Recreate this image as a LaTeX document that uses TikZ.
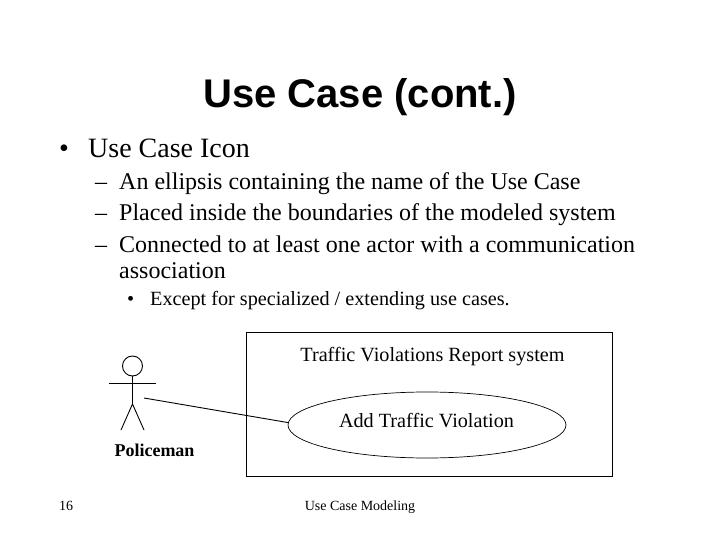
\documentclass[tikz,border=0pt]{standalone}
\usepackage{fontspec}
\setmainfont{Liberation Serif}
\newfontfamily\titlefont{Liberation Sans}
\usetikzlibrary{shapes.geometric}
\tikzset{
  txt/.style={anchor=base west,inner sep=0pt},
  ctxt/.style={anchor=base,inner sep=0pt},
  stick/.style={line width=0.9pt},
}
\begin{document}
\begin{tikzpicture}[x=1pt,y=-1pt]
  \useasboundingbox (0,0) rectangle (720,540);
  \node[ctxt,font=\titlefont\bfseries\fontsize{40}{40}\selectfont] (title) at (360,108) {Use Case (cont.)};
  \node[txt,font=\fontsize{28}{28}\selectfont] (bulA) at (59,157.5) {\textbullet};
  \node[txt,font=\fontsize{28}{28}\selectfont] (icon) at (88,157.5) {Use Case Icon};
  % second level
  \node[txt,font=\fontsize{24}{24}\selectfont] (dashA) at (95,189.5) {--};
  \node[txt,font=\fontsize{24}{24}\selectfont] (lineA) at (119,189.5) {An ellipsis containing the name of the Use Case};
  \node[txt,font=\fontsize{24}{24}\selectfont] (dashB) at (95,220.5) {--};
  \node[txt,font=\fontsize{24}{24}\selectfont] (lineB) at (119,220.5) {Placed inside the boundaries of the modeled system};
  \node[txt,font=\fontsize{24}{24}\selectfont] (dashC) at (95,252) {--};
  \node[txt,font=\fontsize{24}{24}\selectfont] (lineC) at (119,252) {Connected to at least one actor with a communication};
  \node[txt,font=\fontsize{24}{24}\selectfont] (lineD) at (119,278) {association};
  \node[txt,font=\fontsize{20.2}{20.2}\selectfont] (bulB) at (127,305) {\textbullet};
  \node[txt,font=\fontsize{20.2}{20.2}\selectfont] (lineE) at (150,305) {Except for specialized / extending use cases.};
  % system box
  \node[draw,line width=0.9pt,minimum width=365.5pt,minimum height=143.5pt,inner sep=0pt] (system) at (429.25,404.25) {};
  \node[ctxt,font=\fontsize{20.2}{20.2}\selectfont] (sysname) at (432.5,361) {Traffic Violations Report system};
  \node[draw,ellipse,line width=0.7pt,minimum width=278pt,minimum height=66pt,inner sep=0pt] (usecase) at (427,425) {};
  \node[ctxt,font=\fontsize{20.2}{20.2}\selectfont] (ucname) at (426.5,427) {Add Traffic Violation};
  % actor
  \node[draw,circle,stick,minimum size=20pt,inner sep=0pt] (head) at (132.5,366) {};
  \coordinate (armL) at (109,383);
  \coordinate (armR) at (156,383);
  \coordinate (hip) at (132.5,404);
  \coordinate (footL) at (121,430);
  \coordinate (footR) at (144,430);
  \coordinate (hand) at (144,398);
  \draw[stick] (head)--(hip);
  \draw[stick] (armL)--(armR);
  \draw[stick] (footL)--(hip)--(footR);
  \draw[stick] (hand)--(usecase.179);
  \node[ctxt,font=\bfseries\fontsize{18}{18}\selectfont] (actor) at (154.5,456) {Policeman};
  % footer
  \node[txt,font=\fontsize{14}{14}\selectfont] (page) at (59,510) {16};
  \node[ctxt,font=\fontsize{14}{14}\selectfont] (foot) at (360,510) {Use Case Modeling};
\end{tikzpicture}
\end{document}
